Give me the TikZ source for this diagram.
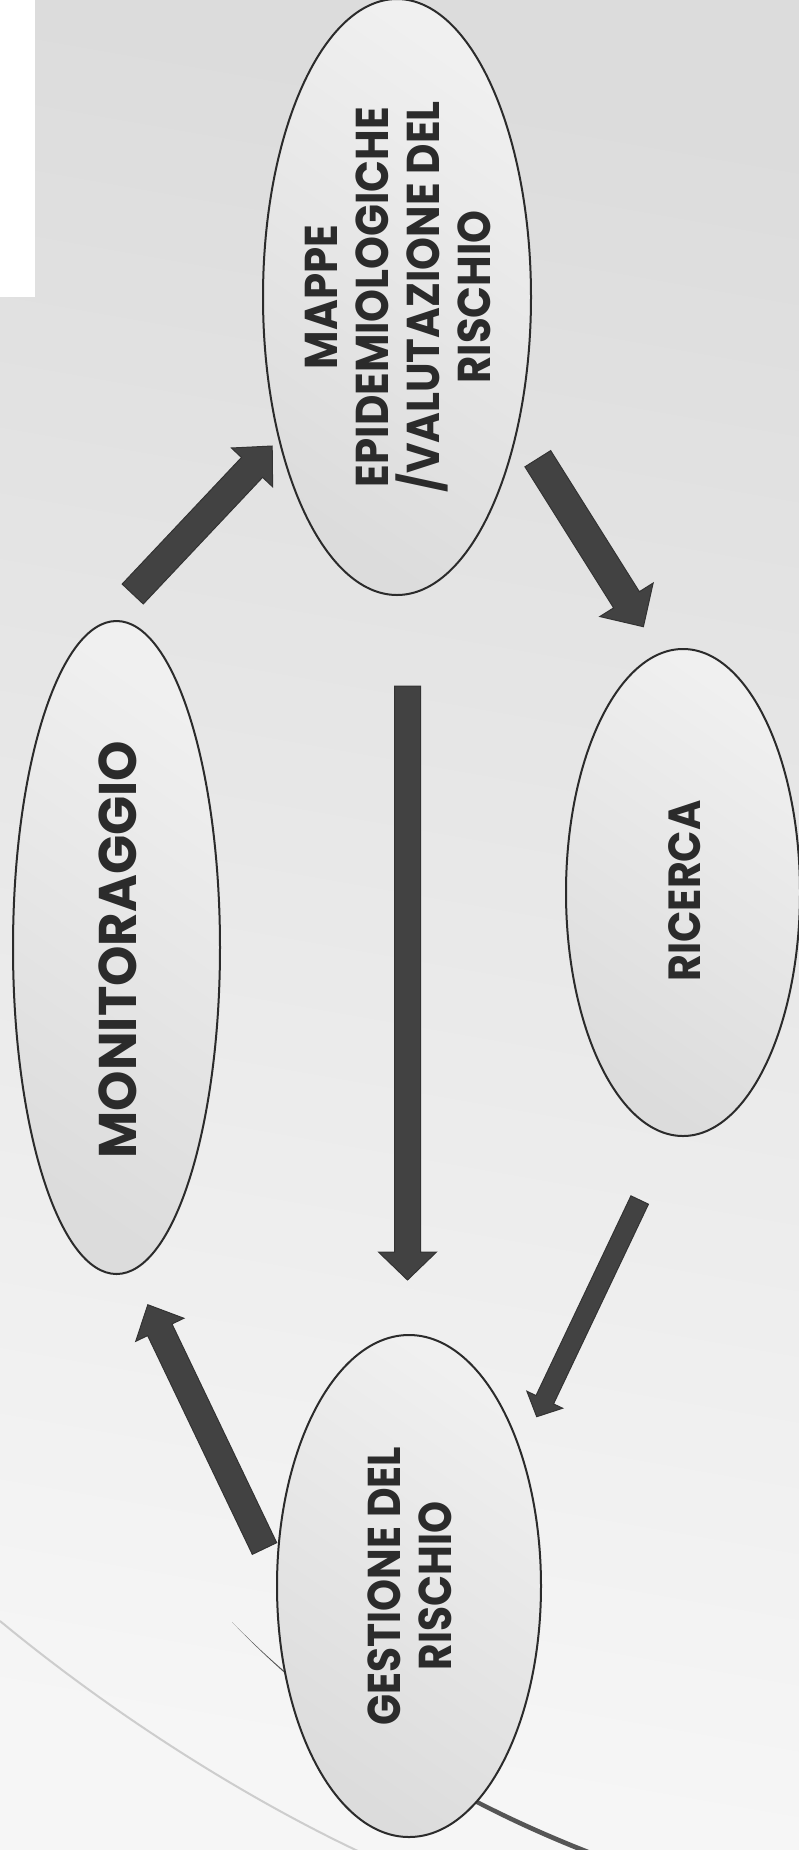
\documentclass[tikz,border=0pt]{standalone}
\usepackage{fontspec}
\setmainfont{Poppins}
\usetikzlibrary{shapes.geometric,calc}
\definecolor{bgtop}{HTML}{DCDCDC}
\definecolor{bgbot}{HTML}{F6F6F6}
\definecolor{ellA}{HTML}{F0F0F0}
\definecolor{ellB}{HTML}{DCDCDC}
\definecolor{ellline}{HTML}{2B2B2B}
\definecolor{txt}{HTML}{2B2B2B}
\definecolor{arrfill}{HTML}{424242}
\definecolor{arrline}{HTML}{333333}
\definecolor{lightarc}{HTML}{CDCDCD}
\definecolor{darkarc}{HTML}{555555}
\newcommand\blockarr[5]{%
  \coordinate (hb) at ($(#2)!#5!(#1)$);
  \draw[blockarrow] ($(#1)!#3!90:(#2)$) -- ($(hb)!#3!90:(#2)$) -- ($(hb)!#4!90:(#2)$) -- (#2)
    -- ($(hb)!#4!-90:(#2)$) -- ($(hb)!#3!-90:(#2)$) -- ($(#1)!#3!-90:(#2)$) -- cycle;}
\begin{document}
\begin{tikzpicture}[x=1pt,y=-1pt,
  ell/.style={ellipse, draw=ellline, line width=2pt, inner sep=0pt, top color=ellA, bottom color=ellB, shading angle=-35},
  lbl/.style={rotate=90, align=center, text=txt, inner sep=0pt, font=\bfseries\fontsize{46}{51}\selectfont},
  blockarrow/.style={fill=arrfill, draw=arrline, line width=1pt, line join=miter}]
\useasboundingbox (0,0) rectangle (799,1850);
\shade[top color=bgtop, bottom color=bgbot, shading angle=-10] (0,0) rectangle (799,1850);
\fill[white] (0,0) rectangle (35,297);
% decorative arcs
\draw[lightarc, line width=2pt] (0,1621) .. controls (120,1720) and (250,1800) .. (360,1852);
\fill[darkarc] (232,1622) .. controls (330,1722) and (455,1800) .. (610,1858)
   -- (610,1863) .. controls (453,1805) and (329,1724) .. (232,1622) -- cycle;
% ellipses
\node[ell, minimum width=268pt, minimum height=596pt] (mappe) at (397,297) {};
\node[ell, minimum width=234pt, minimum height=487pt] (ricerca) at (683,892.5) {};
\node[ell, minimum width=207pt, minimum height=653pt] (monit) at (116.5,947.5) {};
\node[ell, minimum width=264pt, minimum height=502pt] (gest) at (409,1586) {};
% labels
\node[lbl, xscale=0.91] (mappe-t) at (398,297) {MAPPE\\EPIDEMIOLOGICHE\\/VALUTAZIONE DEL\\RISCHIO};
\node[lbl, xscale=0.915, font=\bfseries\fontsize{45}{51}\selectfont] (ricerca-t) at (685,891) {RICERCA};
\node[lbl, xscale=0.97, font=\bfseries\fontsize{53}{60}\selectfont] (monit-t) at (118,949.5) {MONITORAGGIO};
\node[lbl, xscale=0.885] (gest-t) at (410,1586) {GESTIONE DEL\\RISCHIO};
% arrow end points
\coordinate (a1s) at (132.7,594);   \coordinate (a1e) at (272.2,446);
\coordinate (a2s) at (537.8,458.7); \coordinate (a2e) at (643.4,626.7);
\coordinate (a3s) at (407.5,686);   \coordinate (a3e) at (407.5,1280);
\coordinate (a4s) at (639.7,1200);  \coordinate (a4e) at (536.7,1416.7);
\coordinate (a5s) at (264.5,1548.5);\coordinate (a5e) at (147.8,1304.7);
\blockarr{a1s}{a1e}{14.5pt}{28.3pt}{29.4pt}
\blockarr{a2s}{a2e}{15.2pt}{31.5pt}{31.8pt}
\blockarr{a3s}{a3e}{13pt}{29pt}{28pt}
\blockarr{a4s}{a4e}{9.7pt}{19.8pt}{18.8pt}
\blockarr{a5s}{a5e}{13.5pt}{26.7pt}{27.8pt}
\end{tikzpicture}
\end{document}
